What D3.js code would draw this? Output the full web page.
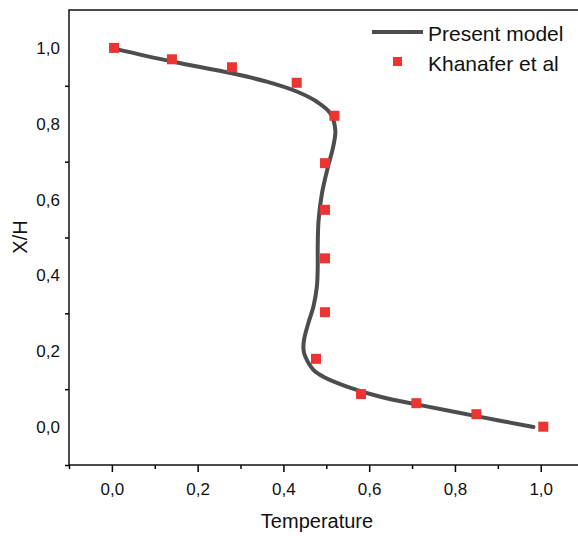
<!DOCTYPE html>
<html>
<head>
<meta charset="utf-8">
<script src="https://cdn.jsdelivr.net/npm/d3@7"></script>
<style>
  body { margin: 0; background: #fff; }
  svg { display: block; font-family: "Liberation Sans", Arial, sans-serif; }
</style>
</head>
<body>
<div id="chart"></div>
<script>
// Present model curve (Temperature, X/H)
const modelT = [0.005, 0.14, 0.28, 0.361, 0.431, 0.478, 0.509, 0.521, 0.516, 0.504, 0.490, 0.482, 0.480, 0.480, 0.478, 0.470, 0.458, 0.448, 0.447, 0.451, 0.470, 0.493, 0.548, 0.626, 0.719, 0.859, 0.983];
const modelY = [0.998, 0.964, 0.933, 0.911, 0.885, 0.858, 0.828, 0.783, 0.739, 0.687, 0.617, 0.546, 0.476, 0.423, 0.370, 0.318, 0.274, 0.230, 0.203, 0.186, 0.151, 0.133, 0.107, 0.080, 0.058, 0.027, 0.0];

// Khanafer et al points
const khanT = [0.005, 0.14, 0.28, 0.431, 0.519, 0.497, 0.497, 0.497, 0.497, 0.476, 0.581, 0.71, 0.85, 1.006];
const khanY = [1.0, 0.970, 0.949, 0.908, 0.821, 0.696, 0.573, 0.445, 0.303, 0.180, 0.087, 0.063, 0.034, 0.001];

const majorTicks = [0, 0.2, 0.4, 0.6, 0.8, 1.0];
const minorTicks = [-0.1, 0.1, 0.3, 0.5, 0.7, 0.9];
const legendLabels = ["Present model", "Khanafer et al"];

const W = 578, H = 536;
const padL = 69, padT = 10, padR = 583.6, padB = 465;

const svg = d3.select("#chart").append("svg")
    .attr("width", W)
    .attr("height", H);

const x = d3.scaleLinear().domain([-0.1, 1.1]).range([padL, padR]);
const y = d3.scaleLinear().domain([-0.1, 1.1]).range([padB, padT]);

const fmt = d => d3.format(".1f")(d).replace(".", ",");

// x axis: major + minor ticks
svg.append("g")
    .attr("transform", `translate(0,${padB})`)
    .call(d3.axisBottom(x).tickValues(majorTicks).tickSize(7).tickSizeOuter(0).tickPadding(11).tickFormat(fmt))
    .call(g => g.select(".domain").remove())
    .call(g => g.selectAll("line").attr("stroke-width", 1.5))
    .call(g => g.selectAll("text").attr("font-size", 17).attr("fill", "#111"));

svg.append("g")
    .attr("transform", `translate(0,${padB})`)
    .call(d3.axisBottom(x).tickValues(minorTicks).tickSize(4).tickSizeOuter(0).tickFormat(""))
    .call(g => g.select(".domain").remove())
    .call(g => g.selectAll("line").attr("stroke-width", 1.5));

// y axis: labels, minor ticks only
svg.append("g")
    .attr("transform", `translate(${padL},0)`)
    .call(d3.axisLeft(y).tickValues(majorTicks).tickSize(0).tickPadding(9).tickFormat(fmt))
    .call(g => g.select(".domain").remove())
    .call(g => g.selectAll("text").attr("font-size", 17).attr("fill", "#111"));

svg.append("g")
    .attr("transform", `translate(${padL},0)`)
    .call(d3.axisLeft(y).tickValues(minorTicks).tickSize(4).tickSizeOuter(0).tickFormat(""))
    .call(g => g.select(".domain").remove())
    .call(g => g.selectAll("line").attr("stroke-width", 1.5));

// frame
svg.append("rect")
    .attr("x", padL).attr("y", padT)
    .attr("width", padR - padL).attr("height", padB - padT)
    .attr("fill", "none").attr("stroke", "#111").attr("stroke-width", 1.5);

// model line
const modelData = modelT.map((t, i) => ({ t, v: modelY[i] }));
svg.append("path")
    .datum(modelData)
    .attr("fill", "none")
    .attr("stroke", "#4d4d4d")
    .attr("stroke-width", 4)
    .attr("stroke-linecap", "round")
    .attr("d", d3.line().x(d => x(d.t)).y(d => y(d.v)).curve(d3.curveCatmullRom.alpha(0.5)));

// Khanafer squares
const s = 10;
svg.selectAll("rect.pt")
    .data(khanT.map((t, i) => ({ t, v: khanY[i] })))
    .join("rect")
    .attr("class", "pt")
    .attr("x", d => x(d.t) - s / 2)
    .attr("y", d => y(d.v) - s / 2)
    .attr("width", s).attr("height", s)
    .attr("fill", "#ee3333");

// axis titles
svg.append("text")
    .attr("x", 317).attr("y", 528)
    .attr("text-anchor", "middle")
    .attr("font-size", 20).attr("fill", "#111")
    .text("Temperature");

svg.append("text")
    .attr("transform", `translate(27,237) rotate(-90)`)
    .attr("text-anchor", "middle")
    .attr("font-size", 20).attr("fill", "#111")
    .text("X/H");

// legend
const lg = svg.append("g");
lg.append("line")
    .attr("x1", 372).attr("x2", 423).attr("y1", 32).attr("y2", 32)
    .attr("stroke", "#4d4d4d").attr("stroke-width", 4);
lg.append("rect")
    .attr("x", 393).attr("y", 57).attr("width", 9).attr("height", 9)
    .attr("fill", "#ee3333");
lg.selectAll("text")
    .data(legendLabels)
    .join("text")
    .attr("x", 428)
    .attr("y", (d, i) => 41 + i * 30)
    .attr("font-size", 21).attr("fill", "#111")
    .text(d => d);
</script>
</body>
</html>
